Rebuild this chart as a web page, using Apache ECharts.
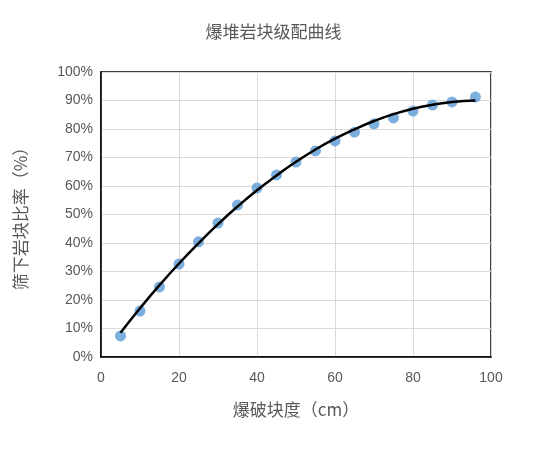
<!DOCTYPE html>
<html><head><meta charset="utf-8">
<script src="https://cdn.jsdelivr.net/npm/echarts@6/dist/echarts.min.js"></script>
<style>html,body{margin:0;padding:0;background:#fff}#c{width:547px;height:451px}</style>
</head><body><div id="c"></div>
<script>
const xs = [5,10,15,20,25,30,35,40,45,50,55,60,65,70,75,80,85,90,96];
const pts = [7.4,16.1,24.6,32.6,40.4,47.0,53.3,59.3,63.9,68.4,72.3,75.8,78.9,81.8,83.9,86.3,88.4,89.5,91.2];
const trend = [8.5,17.1,25.2,32.8,39.9,46.6,52.8,58.5,63.7,68.5,72.8,76.6,79.9,82.8,85.2,87.1,88.5,89.5,90.0];
const chart = echarts.init(document.getElementById('c'));
const f = 'Microsoft YaHei, "Noto Sans CJK SC", sans-serif';
chart.setOption({
  animation:false,
  title:{text:'爆堆岩块级配曲线',left:'center',top:18,textStyle:{fontSize:17,fontWeight:'normal',color:'#595959',fontFamily:f}},
  grid:{left:101,right:56,top:72,bottom:94,show:true,borderColor:'#000',borderWidth:1.5,backgroundColor:'transparent'},
  xAxis:{type:'value',min:0,max:100,interval:20,name:'爆破块度（cm）',nameLocation:'middle',nameGap:44,
    nameTextStyle:{fontSize:17,color:'#595959',fontFamily:f},
    axisLine:{lineStyle:{color:'#000',width:1.5}},axisTick:{show:false},
    axisLabel:{fontSize:14,color:'#595959',margin:14},splitLine:{lineStyle:{color:'#d9d9d9'}}},
  yAxis:{type:'value',min:0,max:100,interval:10,name:'筛下岩块比率（%）',nameLocation:'middle',nameGap:72,
    nameTextStyle:{fontSize:17,color:'#595959',fontFamily:f},
    axisLine:{show:true,lineStyle:{color:'#000',width:1.5}},axisTick:{show:false},
    axisLabel:{fontSize:14,color:'#595959',formatter:'{value}%'},splitLine:{lineStyle:{color:'#d9d9d9'}}},
  series:[
    {type:'line',data:xs.map((x,i)=>[x,trend[i]]),smooth:true,symbol:'none',lineStyle:{color:'#000',width:2.5},z:3},
    {type:'scatter',data:xs.map((x,i)=>[x,pts[i]]),symbolSize:11,itemStyle:{color:'#5b9bd5'},z:2}
  ]
});
</script></body></html>
